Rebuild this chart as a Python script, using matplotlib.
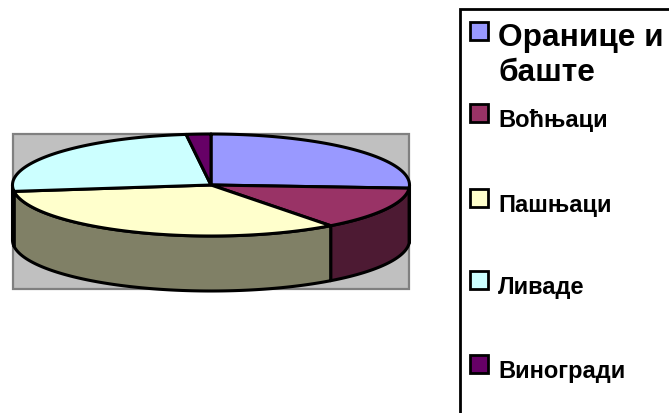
import numpy as np
import matplotlib.pyplot as plt
from matplotlib.patches import Polygon, Rectangle

plt.rcParams["font.family"] = ["Liberation Sans", "DejaVu Sans"]

labels = ["Оранице и\nбаште", "Воћњаци", "Пашњаци", "Ливаде", "Виногради"]
values = [26, 13.7, 33.3, 25, 2]
colors = ["#9999FF", "#993366", "#FFFFCC", "#CCFFFF", "#660066"]
side_colors = ["#4D4D80", "#4D1A33", "#808066", "#668080", "#330033"]

# pie geometry in image pixels
CX, CY = 211, 186
RX, RY = 198.5, 51
DEPTH = 55
LINE = 2.2

fig = plt.figure(figsize=(6.69, 4.14), dpi=100)
ax = fig.add_axes([0, 0, 1, 1])
ax.set_xlim(0, 669)
ax.set_ylim(414, 0)
ax.axis("off")


def rim(t0, t1, dy=0):
    t = np.radians(np.linspace(t0, t1, 200))
    return np.column_stack([CX + RX * np.cos(t), CY + dy + RY * np.sin(t)])


# grey plot area
ax.add_patch(Rectangle((12.5, 134.5), 396, 155, fc="#C0C0C0", ec="#808080", lw=1.6, zorder=1))

# slices start at the top and go clockwise
edges = 270 + np.cumsum([0] + values) * 360 / sum(values)

# side wall, only the front half shows
for i in range(len(values)):
    for shift in (-360, 0):
        t0 = max(edges[i] + shift, 0)
        t1 = min(edges[i + 1] + shift, 180)
        if t1 <= t0:
            continue
        pts = np.vstack([rim(t0, t1), rim(t0, t1, DEPTH)[::-1]])
        ax.add_patch(Polygon(pts, fc=side_colors[i], ec="black", lw=LINE, joinstyle="round", zorder=2))

# top face
for i in range(len(values)):
    pts = np.vstack([[CX, CY], rim(edges[i], edges[i + 1])])
    ax.add_patch(Polygon(pts, fc=colors[i], ec="black", lw=LINE, joinstyle="round", zorder=3))

# legend box runs off the image on the right and at the bottom
ax.add_patch(Rectangle((459.5, 9.5), 300, 500, fc="white", ec="black", lw=2.0, zorder=1))

swatch_tops = [23, 105, 190, 272, 356]
baselines = [46, 127, 212, 294, 378]
for i, label in enumerate(labels):
    ax.add_patch(Rectangle((470, swatch_tops[i]), 18, 18, fc=colors[i], ec="black", lw=2.0, zorder=3))
    if i == 0:
        # first entry is in a bigger font and wraps
        first, second = label.split("\n")
        ax.text(498, baselines[i], first, fontsize=22.8, fontweight="bold", va="baseline", zorder=4)
        ax.text(498, baselines[i] + 35, second, fontsize=22.8, fontweight="bold", va="baseline", zorder=4)
    else:
        ax.text(498, baselines[i], label, fontsize=17, fontweight="bold", va="baseline", zorder=4)

fig.savefig("out.png", dpi=100)
